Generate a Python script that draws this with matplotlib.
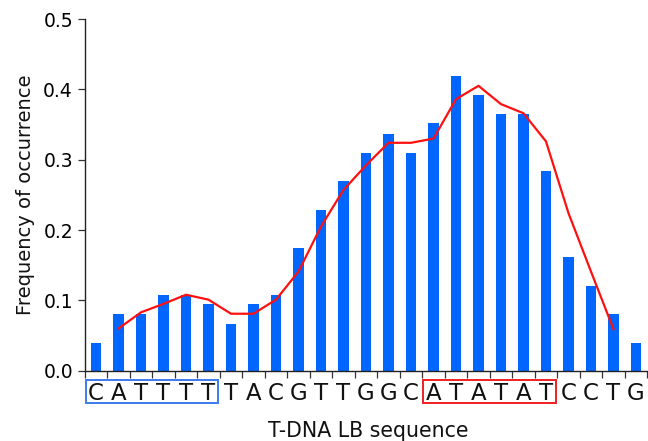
import matplotlib
matplotlib.use('Agg')
import matplotlib.pyplot as plt
import matplotlib.patches as mpatches
import matplotlib.transforms as mtransforms
import numpy as np

plt.rcParams['font.family'] = 'DejaVu Sans'

# sequence and measured frequencies
letters = list('CATTTTTACGTTGGCATATATCCTG')
freq = [0.040, 0.081, 0.081, 0.108, 0.108, 0.095, 0.067, 0.095, 0.108, 0.175,
        0.229, 0.270, 0.310, 0.337, 0.310, 0.352, 0.419, 0.392, 0.365, 0.365,
        0.284, 0.161, 0.121, 0.081, 0.040]
# smoothed curve (positions 1..23)
trend_pos = list(range(1, 24))
trend = [0.060, 0.083, 0.095, 0.108, 0.101, 0.081, 0.081, 0.101, 0.141, 0.205,
         0.257, 0.292, 0.324, 0.324, 0.330, 0.386, 0.405, 0.379, 0.366, 0.326,
         0.224, 0.141, 0.059]
# highlighted motifs: (first index, last index, colour)
boxes = [(0, 5, '#3B7BF0'), (15, 20, '#F02020')]

fig = plt.figure(figsize=(6.48, 4.41), dpi=100)
ax = fig.add_axes([0.1308, 0.1594, 0.868, 0.7975])

x = np.arange(len(letters))
ax.bar(x, freq, width=0.45, color='#0066FF', linewidth=0, zorder=2)
ax.plot(trend_pos, trend, color='#FF1010', linewidth=1.6, zorder=3)

ax.set_xlim(-0.5, 24.5)
ax.set_ylim(0, 0.5)
ax.set_yticks(np.arange(0, 0.51, 0.1))
ax.set_yticklabels([f'{v:.1f}' for v in np.arange(0, 0.51, 0.1)], fontsize=13.5)
ax.set_xticks(np.arange(-0.5, 25, 1))
ax.set_xticklabels([])
ax.tick_params(direction='out', length=5, width=0.9, color='#333333')

for s in ['top', 'right']:
    ax.spines[s].set_visible(False)
for s in ['left', 'bottom']:
    ax.spines[s].set_linewidth(1.0)
    ax.spines[s].set_color('#222222')

trans = mtransforms.blended_transform_factory(ax.transData, ax.transAxes)
for i, ch in enumerate(letters):
    ax.text(i, -0.083, ch, transform=trans, ha='center', va='baseline',
            fontsize=16.5, color='#111111', clip_on=False)

for i0, i1, col in boxes:
    rect = mpatches.Rectangle((i0 - 0.46, -0.091), (i1 - i0) + 0.9, 0.065,
                              transform=trans, fill=False, edgecolor=col,
                              linewidth=1.4, clip_on=False)
    ax.add_patch(rect)

ax.text(12.1, -0.1877, 'T-DNA LB sequence', transform=trans, ha='center',
        va='baseline', fontsize=14.8, color='#111111', clip_on=False)
ax.set_ylabel('Frequency of occurrence', fontsize=14, labelpad=6, color='#111111')

fig.savefig('out.png', dpi=100, facecolor='white')
